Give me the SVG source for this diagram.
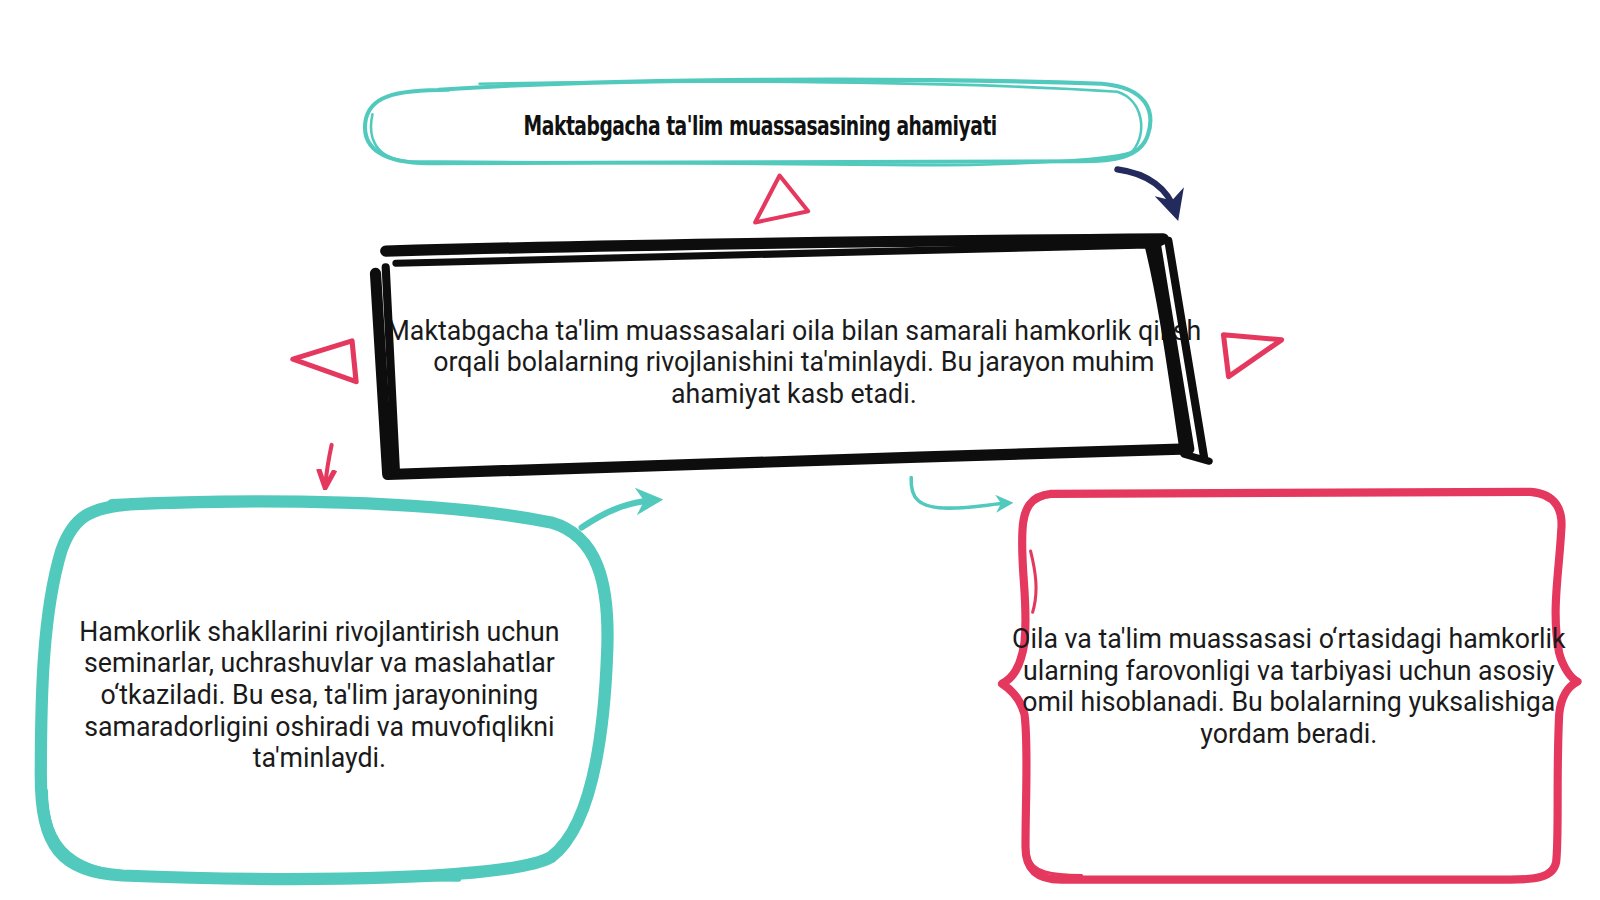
<svg xmlns="http://www.w3.org/2000/svg" width="1600" height="900" viewBox="0 0 1600 900">
<style>
.body{font-family:Roboto,"Noto Sans",sans-serif;font-size:26.2px;fill:#1a1a1a;text-anchor:middle}
.title{font-family:"DejaVu Sans Condensed","Liberation Sans Narrow","Liberation Sans",sans-serif;font-weight:bold;font-size:26px;fill:#111;text-anchor:middle;letter-spacing:-0.6px}
.teal{fill:none;stroke:#52c9bd;stroke-linecap:round;stroke-linejoin:round}
.pink{fill:none;stroke:#e5385f;stroke-linecap:round;stroke-linejoin:round}
.ink{fill:none;stroke:#0d0d0d;stroke-linecap:round;stroke-linejoin:round}
</style>
<defs>
<marker id="hTeal" viewBox="0 0 10 10" refX="7" refY="5" markerWidth="4.5" markerHeight="4.5" orient="auto"><path d="M0,0 L10,5 L0,10 L3,5 Z" fill="#52c9bd"/></marker>
<marker id="hTealS" viewBox="0 0 10 10" refX="7" refY="5" markerWidth="5" markerHeight="5" orient="auto"><path d="M0,0 L10,5 L0,10 L3,5 Z" fill="#52c9bd"/></marker>
<marker id="hPink" viewBox="0 0 10 10" refX="7" refY="5" markerWidth="5" markerHeight="5" orient="auto"><path d="M0,1 L9,5 L0,9" fill="none" stroke="#e5385f" stroke-width="2.5"/></marker>
<marker id="hNavy" viewBox="0 0 10 10" refX="7" refY="5" markerWidth="5" markerHeight="5" orient="auto"><path d="M0,0 L10,5 L0,10 L3,5 Z" fill="#232a5c"/></marker>
</defs>
<rect width="1600" height="900" fill="#ffffff"/>
<g transform="scale(1.0204)">

<g id="title-node">
<path class="teal" stroke-width="4" d="M430,88 C600,76 900,76 1080,82 C1125,86 1132,110 1125,132 C1118,155 1090,158 1060,158 L420,160 C375,160 355,145 358,120 C361,95 385,88 440,88"/>
<path class="teal" stroke-width="2.5" d="M470,82 C700,78 950,80 1095,90 C1120,98 1125,130 1110,148 C1100,156 1000,162 900,162 L400,158 C368,156 360,135 365,112"/>
<text class="title" transform="translate(745,132) scale(0.785,1)">Maktabgacha ta'lim muassasasining ahamiyati</text>
</g>

<g id="main-node">
<text class="body" x="778" y="333">Maktabgacha ta'lim muassasalari oila bilan samarali hamkorlik qilish</text>
<text class="body" x="778" y="364">orqali bolalarning rivojlanishini ta'minlaydi. Bu jarayon muhim</text>
<text class="body" x="778" y="395">ahamiyat kasb etadi.</text>
<path class="ink" stroke-width="11" d="M378,246 C600,240 900,236 1140,234 L1132,238 L1165,440 L900,448 L380,465 L368,268"/>
<path class="ink" stroke-width="7" d="M388,258 L1125,240 C1140,300 1150,380 1160,445 L1185,452"/>
<path class="ink" stroke-width="8" d="M378,262 L388,462 M1145,236 L1180,448"/>
</g>

<g id="left-node">
<path class="teal" stroke-width="12" d="M110,495 C250,488 430,490 540,512 C585,525 598,570 595,640 C592,720 580,810 540,840 C500,862 300,865 120,858 C60,854 40,830 40,760 C40,680 42,600 60,540 C72,505 90,497 130,494"/>
<path class="teal" stroke-width="4" d="M45,775 C45,830 70,855 150,860 L450,862"/>
<text class="body" x="313" y="628">Hamkorlik shakllarini rivojlantirish uchun</text>
<text class="body" x="313" y="659">seminarlar, uchrashuvlar va maslahatlar</text>
<text class="body" x="313" y="690">o‘tkaziladi. Bu esa, ta'lim jarayonining</text>
<text class="body" x="313" y="721">samaradorligini oshiradi va muvofiqlikni</text>
<text class="body" x="313" y="752">ta'minlaydi.</text>
</g>

<g id="right-node">
<path class="pink" stroke-width="8" d="M1030,484 L1500,482 C1525,484 1532,500 1530,520 C1528,560 1520,600 1528,640 C1532,655 1540,665 1546,668 C1538,672 1530,680 1528,700 C1525,760 1528,820 1525,845 C1522,860 1505,862 1480,862 L1040,862 C1015,862 1005,850 1005,830 C1005,780 1008,730 1004,700 C1000,685 990,675 982,670 C992,665 1000,655 1004,630 C1008,590 1000,560 1002,520 C1003,498 1010,486 1030,484"/>
<path class="pink" stroke-width="3" d="M1010,540 C1015,560 1018,580 1012,600 M1008,840 C1012,855 1030,858 1060,858"/>
<text class="body" x="1263" y="635">Oila va ta'lim muassasasi o‘rtasidagi hamkorlik</text>
<text class="body" x="1263" y="666">ularning farovonligi va tarbiyasi uchun asosiy</text>
<text class="body" x="1263" y="697">omil hisoblanadi. Bu bolalarning yuksalishiga</text>
<text class="body" x="1263" y="728">yordam beradi.</text>
</g>

<g id="connectors">
<path d="M1095,166 C1125,170 1145,185 1152,208" fill="none" stroke="#232a5c" stroke-width="6" stroke-linecap="round" marker-end="url(#hNavy)"/>
<path class="pink" stroke-width="4" d="M764,172 L792,207 L740,218 Z"/>
<path class="pink" stroke-width="5" d="M287,352 L345,334 L349,374 Z"/>
<path class="pink" stroke-width="5" d="M1199,328 L1256,333 L1204,369 Z"/>
<path class="pink" stroke-width="4" d="M325,436 C322,450 320,462 319,474" marker-end="url(#hPink)"/>
<path class="teal" stroke-width="6" d="M570,517 C595,500 615,492 642,490" marker-end="url(#hTeal)"/>
<path class="teal" stroke-width="3.5" d="M893,468 C892,488 900,498 930,498 C955,498 970,494 988,493" marker-end="url(#hTealS)"/>
</g>
</g>
</svg>
